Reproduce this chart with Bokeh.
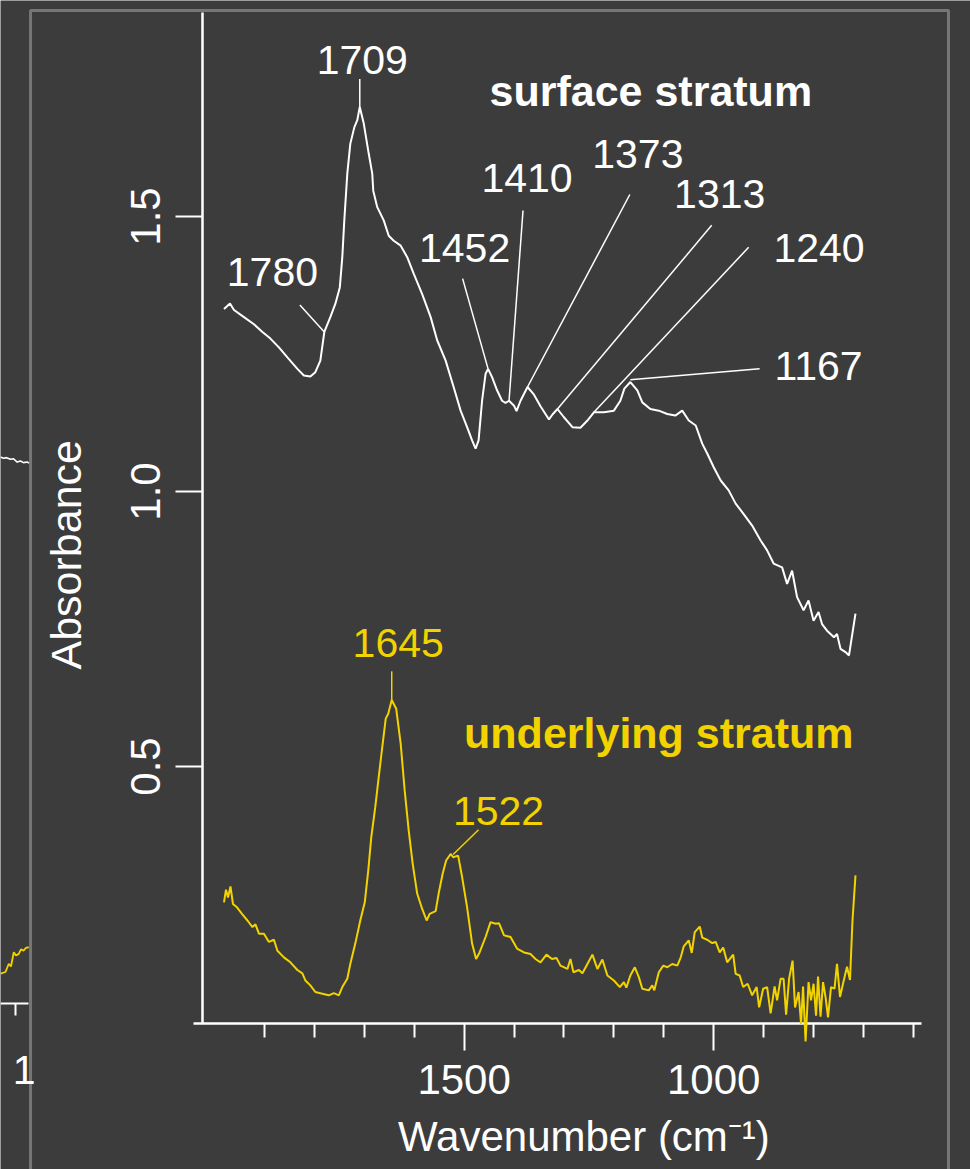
from math import pi
from bokeh.plotting import figure
from bokeh.models import (Range1d, LinearAxis, FixedTicker, PrintfTickFormatter,
                          ColumnDataSource, Label, BoxAnnotation)
from bokeh.core.properties import value
from bokeh.embed import file_html
from bokeh.resources import INLINE

BG = "#3c3c3c"
WHITE = "#ffffff"
YELLOW = "#f2d300"
FONT = "Liberation Sans"

# ---------------- data ----------------
surface_wn = [1981, 1969, 1961, 1941, 1921, 1904, 1888, 1871, 1854, 1834,
              1821, 1808, 1798, 1788, 1780, 1768, 1758, 1749, 1744, 1740,
              1734, 1728, 1720, 1714, 1709, 1701, 1691, 1684, 1682, 1674,
              1661, 1651, 1641, 1627, 1614, 1601, 1584, 1567, 1554, 1537,
              1521, 1507, 1494, 1484, 1477, 1471, 1464, 1457, 1452, 1444,
              1434, 1424, 1417, 1410, 1400, 1395, 1387, 1373, 1360, 1347,
              1330, 1323, 1313, 1300, 1283, 1267, 1253, 1240, 1220, 1200,
              1187, 1179, 1167, 1153, 1143, 1127, 1110, 1093, 1077, 1063,
              1050, 1036, 1023, 1013, 1000, 986, 970, 956, 940, 923,
              906, 893, 880, 863, 853, 843, 833, 820, 810, 800,
              790, 783, 773, 759, 753, 746, 736, 729, 716]
surface_abs = [1.332, 1.342, 1.330, 1.317, 1.304, 1.290, 1.278, 1.262, 1.244, 1.223,
               1.211, 1.209, 1.217, 1.238, 1.290, 1.317, 1.341, 1.371, 1.426, 1.493,
               1.578, 1.632, 1.662, 1.675, 1.699, 1.669, 1.614, 1.578, 1.547, 1.517,
               1.493, 1.465, 1.456, 1.447, 1.426, 1.396, 1.359, 1.317, 1.275, 1.238,
               1.190, 1.147, 1.117, 1.093, 1.078, 1.093, 1.165, 1.214, 1.223, 1.208,
               1.184, 1.165, 1.161, 1.165, 1.156, 1.146, 1.165, 1.190, 1.176, 1.155,
               1.131, 1.140, 1.150, 1.135, 1.117, 1.116, 1.129, 1.144, 1.144, 1.147,
               1.165, 1.187, 1.199, 1.184, 1.162, 1.150, 1.147, 1.141, 1.138, 1.147,
               1.129, 1.120, 1.087, 1.069, 1.044, 1.020, 1.002, 0.978, 0.959, 0.938,
               0.911, 0.893, 0.869, 0.862, 0.832, 0.856, 0.808, 0.784, 0.802, 0.765,
               0.781, 0.759, 0.747, 0.735, 0.741, 0.714, 0.708, 0.702, 0.778]

underlying_wn = [1981, 1977, 1973, 1968, 1963, 1955, 1945, 1934, 1924, 1918,
                 1911, 1901, 1891, 1881, 1874, 1861, 1848, 1834, 1824, 1818,
                 1808, 1798, 1784, 1771, 1761, 1751, 1744, 1734, 1728, 1718,
                 1708, 1699, 1692, 1686, 1678, 1671, 1664, 1657, 1652, 1645,
                 1636, 1627, 1619, 1611, 1603, 1594, 1584, 1575, 1569, 1557,
                 1551, 1543, 1536, 1527, 1522, 1512, 1504, 1494, 1484, 1476,
                 1469, 1457, 1447, 1437, 1430, 1420, 1407, 1394, 1380, 1367,
                 1357, 1347, 1335, 1324, 1315, 1307, 1293, 1287, 1281, 1270,
                 1263, 1253, 1243, 1233, 1223, 1213, 1200, 1188, 1180, 1175,
                 1167, 1158, 1150, 1143, 1130, 1123, 1119, 1110, 1101, 1093,
                 1083, 1073, 1066, 1060, 1050, 1044, 1038, 1028, 1023, 1013,
                 1003, 996, 988, 981, 973, 961, 956, 948, 941, 932,
                 923, 914, 909, 901, 893, 886, 878, 873, 866, 860,
                 855, 849, 842, 837, 830, 825, 821, 816, 810, 805,
                 800, 795, 791, 786, 781, 776, 771, 765, 758, 753,
                 747, 741, 733, 727, 722, 716]
underlying_abs = [0.253, 0.276, 0.262, 0.282, 0.250, 0.244, 0.232, 0.220, 0.208, 0.213,
                  0.196, 0.196, 0.181, 0.185, 0.165, 0.153, 0.144, 0.130, 0.124, 0.111,
                  0.102, 0.090, 0.087, 0.084, 0.088, 0.084, 0.099, 0.114, 0.141, 0.178,
                  0.220, 0.253, 0.311, 0.371, 0.426, 0.481, 0.535, 0.587, 0.596, 0.621,
                  0.605, 0.541, 0.456, 0.384, 0.323, 0.269, 0.241, 0.220, 0.232, 0.237,
                  0.269, 0.305, 0.329, 0.341, 0.335, 0.338, 0.299, 0.244, 0.178, 0.150,
                  0.162, 0.190, 0.217, 0.214, 0.215, 0.193, 0.190, 0.169, 0.162, 0.159,
                  0.150, 0.144, 0.158, 0.150, 0.152, 0.138, 0.132, 0.150, 0.126, 0.130,
                  0.124, 0.141, 0.158, 0.132, 0.149, 0.120, 0.111, 0.099, 0.108, 0.098,
                  0.120, 0.135, 0.117, 0.096, 0.093, 0.102, 0.093, 0.126, 0.138, 0.135,
                  0.141, 0.138, 0.153, 0.173, 0.184, 0.161, 0.199, 0.209, 0.189, 0.185,
                  0.179, 0.181, 0.162, 0.171, 0.144, 0.158, 0.123, 0.120, 0.099, 0.105,
                  0.084, 0.099, 0.062, 0.096, 0.099, 0.051, 0.100, 0.075, 0.114, 0.114,
                  0.049, 0.114, 0.147, 0.062, 0.090, 0.032, 0.100, 0.000, 0.108, 0.075,
                  0.105, 0.047, 0.118, 0.045, 0.108, 0.081, 0.044, 0.099, 0.096, 0.141,
                  0.081, 0.105, 0.136, 0.112, 0.220, 0.302]

# peak assignments (wavenumber, absorbance at the peak)
surface_peaks = [1780, 1709, 1452, 1410, 1373, 1313, 1240, 1167]
surface_peak_abs = [1.290, 1.699, 1.223, 1.165, 1.190, 1.150, 1.144, 1.203]
underlying_peaks = [1645, 1522]
underlying_peak_abs = [0.621, 0.340]

# label placement (data coordinates): text anchor and leader-line start
surface_lab_x = [1884, 1704, 1499, 1374, 1152, 988, 789, 790]
surface_lab_y = [1.399, 1.785, 1.442, 1.570, 1.614, 1.541, 1.442, 1.228]
surface_lead_x = [1829, 1709, 1503, 1382, 1168, 1004, 930, 908]
surface_lead_y = [1.339, 1.750, 1.387, 1.511, 1.540, 1.484, 1.444, 1.223]
underlying_lab_x = [1632, 1431]
underlying_lab_y = [0.725, 0.419]
underlying_lead_x = [1645, 1471]
underlying_lead_y = [0.673, 0.385]

x_major_ticks = [1500, 1000]
x_minor_ticks = [600, 700, 800, 900, 1100, 1200, 1300, 1400, 1600, 1700, 1800, 1900]
y_ticks = [0.5, 1.0, 1.5]

# edge of the neighbouring panel (cropped at the left)
nb_wn = [779.4, 773.4, 767.4, 759.4, 753.4, 746.0, 739.4, 733.4, 726.0, 722.4]
nb_white_abs = [1.026, 1.024, 1.025, 1.022, 1.023, 1.017, 1.019, 1.016, 1.017, 1.015]
nb_wn_y = [779.4, 769.4, 762.8, 758.4, 752.8, 748.4, 742.8, 738.4, 732.8, 728.4, 722.8]
nb_yellow_abs = [0.087, 0.090, 0.105, 0.100, 0.126, 0.120, 0.123, 0.131, 0.129, 0.134, 0.135]

assert len(surface_wn) == len(surface_abs)
assert len(underlying_wn) == len(underlying_abs)

# ---------------- figure ----------------
p = figure(width=970, height=1169, output_backend="svg", toolbar_location=None, tools="",
           x_range=Range1d(2428.7, 485.6), y_range=Range1d(-0.2327, 1.8927),
           x_axis_location=None, y_axis_location=None, title=None,
           min_border=0, min_border_left=0, min_border_right=0,
           min_border_top=0, min_border_bottom=0,
           background_fill_color=BG, border_fill_color=BG, outline_line_color=None)
p.grid.visible = False
p.extra_x_ranges = {"nb_x": Range1d(779.4, -1163.5)}
p.extra_y_ranges = {"nb_y": Range1d(-0.269, 1.856)}

# outer panel border
p.add_layout(BoxAnnotation(left=2368.5, right=529.7, top=1.8745, bottom=-0.4,
                           fill_color=None, line_color=WHITE, line_width=3))

xaxis = LinearAxis(fixed_location=0.032, bounds=(584, 2042),
                   ticker=FixedTicker(ticks=x_major_ticks, minor_ticks=x_minor_ticks),
                   formatter=PrintfTickFormatter(format="%d"),
                   axis_line_color=WHITE, axis_line_width=2.5,
                   major_tick_line_color=WHITE, major_tick_line_width=2,
                   major_tick_out=27, major_tick_in=0,
                   minor_tick_line_color=WHITE, minor_tick_line_width=2,
                   minor_tick_out=14, minor_tick_in=0,
                   major_label_text_color=WHITE, major_label_text_font=FONT,
                   major_label_text_font_size="42px", major_label_standoff=14)
p.add_layout(xaxis, "below")

yaxis = LinearAxis(fixed_location=2024, bounds=(0.032, 1.871),
                   ticker=FixedTicker(ticks=y_ticks, minor_ticks=[]),
                   formatter=PrintfTickFormatter(format="%.1f"),
                   axis_line_color=WHITE, axis_line_width=2.5,
                   major_tick_line_color=WHITE, major_tick_line_width=2,
                   major_tick_out=27, major_tick_in=0,
                   minor_tick_out=0, minor_tick_in=0,
                   major_label_orientation="vertical",
                   major_label_text_color=WHITE, major_label_text_font=FONT,
                   major_label_text_font_size="42px", major_label_standoff=16)
p.add_layout(yaxis, "left")

nbaxis = LinearAxis(x_range_name="nb_x", y_range_name="nb_y", fixed_location=0.0327,
                    bounds=(722.4, 779.4),
                    ticker=FixedTicker(ticks=[750], minor_ticks=[]),
                    axis_line_color=WHITE, axis_line_width=2,
                    major_tick_line_color=WHITE, major_tick_line_width=2,
                    major_tick_out=12, major_tick_in=0,
                    major_label_text_alpha=0)
p.add_layout(nbaxis, "below")

# neighbour panel traces
p.line(nb_wn, nb_white_abs, x_range_name="nb_x", y_range_name="nb_y",
       line_color=WHITE, line_width=1.6)
p.line(nb_wn_y, nb_yellow_abs, x_range_name="nb_x", y_range_name="nb_y",
       line_color=YELLOW, line_width=1.8)
p.text(x=[755.0], y=[-0.089], text=["1"], x_range_name="nb_x", y_range_name="nb_y",
       text_font=value(FONT), text_font_size=value("41px"), text_color=WHITE,
       text_align="left", text_baseline="alphabetic")

# spectra
p.line(surface_wn, surface_abs, line_color=WHITE, line_width=2)
ul = p.line(underlying_wn, underlying_abs, line_color=YELLOW, line_width=2)
ul.level = "overlay"

# leader lines
p.segment(x0=surface_lead_x, y0=surface_lead_y, x1=surface_peaks, y1=surface_peak_abs,
          line_color=WHITE, line_width=1.5)
p.segment(x0=underlying_lead_x, y0=underlying_lead_y, x1=underlying_peaks, y1=underlying_peak_abs,
          line_color=YELLOW, line_width=1.5)

# peak labels
s_src = ColumnDataSource(dict(x=surface_lab_x, y=surface_lab_y, t=[str(v) for v in surface_peaks]))
p.text(x="x", y="y", text="t", source=s_src, text_font=value(FONT), text_font_size=value("41px"),
       text_color=WHITE, text_align="center", text_baseline="alphabetic")
u_src = ColumnDataSource(dict(x=underlying_lab_x, y=underlying_lab_y, t=[str(v) for v in underlying_peaks]))
p.text(x="x", y="y", text="t", source=u_src, text_font=value(FONT), text_font_size=value("41px"),
       text_color=YELLOW, text_align="center", text_baseline="alphabetic")

# series names
p.text(x=[1126], y=[1.728], text=["surface stratum"], text_font=value(FONT),
       text_font_size=value("43px"), text_font_style="bold", text_color=WHITE,
       text_align="center", text_baseline="alphabetic")
p.text(x=[1110], y=[0.561], text=["underlying stratum"], text_font=value(FONT),
       text_font_size=value("43px"), text_font_style="bold", text_color=YELLOW,
       text_align="center", text_baseline="alphabetic")

# axis titles
p.add_layout(Label(x=1260, y=-0.172, text="Wavenumber (cm\u207b\u00b9)", text_font=FONT,
                   text_font_size="42px", text_color=WHITE, text_align="center",
                   text_baseline="alphabetic"))
p.add_layout(Label(x=2298, y=0.885, text="Absorbance", angle=pi / 2, text_font=FONT,
                   text_font_size="43px", text_color=WHITE, text_align="center",
                   text_baseline="alphabetic"))

open("out.html", "w").write(file_html(p, INLINE))
